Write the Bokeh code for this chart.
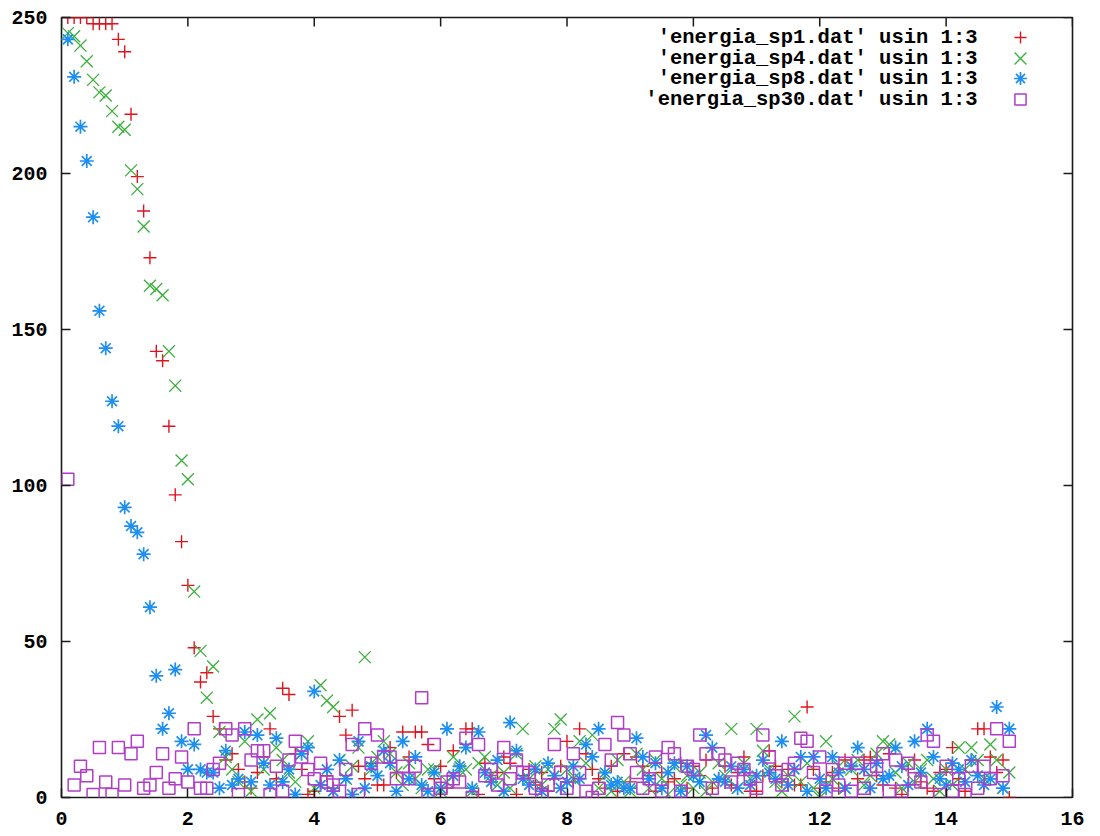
import math
from bokeh.plotting import figure
from bokeh.models import (Range1d, FixedTicker, Legend, LegendItem,
                          Label, ColumnDataSource)
from bokeh.embed import file_html
from bokeh.resources import INLINE

# time steps (same for every file)
times = [
    0.1, 0.2, 0.3, 0.4, 0.5, 0.6, 0.7, 0.8, 0.9, 1.0,
    1.1, 1.2, 1.3, 1.4, 1.5, 1.6, 1.7, 1.8, 1.9, 2.0,
    2.1, 2.2, 2.3, 2.4, 2.5, 2.6, 2.7, 2.8, 2.9, 3.0,
    3.1, 3.2, 3.3, 3.4, 3.5, 3.6, 3.7, 3.8, 3.9, 4.0,
    4.1, 4.2, 4.3, 4.4, 4.5, 4.6, 4.7, 4.8, 4.9, 5.0,
    5.1, 5.2, 5.3, 5.4, 5.5, 5.6, 5.7, 5.8, 5.9, 6.0,
    6.1, 6.2, 6.3, 6.4, 6.5, 6.6, 6.7, 6.8, 6.9, 7.0,
    7.1, 7.2, 7.3, 7.4, 7.5, 7.6, 7.7, 7.8, 7.9, 8.0,
    8.1, 8.2, 8.3, 8.4, 8.5, 8.6, 8.7, 8.8, 8.9, 9.0,
    9.1, 9.2, 9.3, 9.4, 9.5, 9.6, 9.7, 9.8, 9.9, 10.0,
    10.1, 10.2, 10.3, 10.4, 10.5, 10.6, 10.7, 10.8, 10.9, 11.0,
    11.1, 11.2, 11.3, 11.4, 11.5, 11.6, 11.7, 11.8, 11.9, 12.0,
    12.1, 12.2, 12.3, 12.4, 12.5, 12.6, 12.7, 12.8, 12.9, 13.0,
    13.1, 13.2, 13.3, 13.4, 13.5, 13.6, 13.7, 13.8, 13.9, 14.0,
    14.1, 14.2, 14.3, 14.4, 14.5, 14.6, 14.7, 14.8, 14.9, 15.0,
]

sp1 = [
    250, 250, 250, 250, 248, 248, 248, 248, 243, 239,
    219, 199, 188, 173, 143, 140, 119, 97, 82, 68,
    48, 37, 40, 26, 22, 12, 14, 9, 5, 3,
    8, 13, 22, 6, 35, 33, 14, 9, 1, 2,
    4, 7, 3, 26, 20, 28, 10, 6, 11, 4,
    4, 16, 8, 21, 13, 21, 21, 17, 6, 10,
    3, 15, 10, 22, 22, 1, 11, 5, 8, 13,
    11, 1, 7, 9, 4, 8, 2, 6, 10, 18,
    5, 22, 14, 9, 6, 3, 10, 2, 14, 5,
    13, 10, 7, 2, 8, 5, 6, 11, 3, 10,
    7, 12, 3, 6, 10, 4, 8, 13, 2, 2,
    7, 15, 10, 5, 9, 4, 4, 29, 9, 3,
    5, 8, 3, 12, 10, 6, 12, 13, 7, 4,
    14, 3, 1, 9, 12, 5, 3, 2, 8, 9,
    16, 6, 2, 12, 22, 22, 13, 8, 12, 0,
]

sp4 = [
    245, 244, 241, 236, 230, 226, 225, 220, 215, 214,
    201, 195, 183, 164, 163, 161, 143, 132, 108, 102,
    66, 47, 32, 42, 21, 13, 9, 5, 18, 2,
    25, 9, 27, 16, 12, 8, 5, 14, 18, 3,
    36, 31, 29, 12, 6, 10, 16, 45, 9, 13,
    18, 14, 8, 4, 11, 6, 3, 9, 9, 2,
    5, 13, 9, 9, 2, 11, 13, 7, 4, 8,
    3, 14, 22, 6, 10, 4, 9, 22, 25, 9,
    6, 18, 11, 20, 3, 7, 2, 12, 5, 2,
    14, 9, 3, 12, 6, 1, 10, 4, 7, 3,
    8, 2, 5, 11, 7, 22, 3, 11, 6, 22,
    15, 9, 5, 2, 7, 26, 5, 11, 3, 0,
    18, 6, 10, 3, 9, 12, 4, 7, 14, 18,
    17, 8, 3, 11, 5, 9, 12, 6, 2, 9,
    4, 16, 9, 16, 12, 6, 17, 12, 3, 8,
]

sp8 = [
    243, 231, 215, 204, 186, 156, 144, 127, 119, 93,
    87, 85, 78, 61, 39, 22, 27, 41, 18, 9,
    17, 9, 8, 8, 3, 15, 4, 6, 21, 5,
    20, 11, 4, 19, 5, 9, 1, 14, 16, 34,
    4, 9, 2, 12, 6, 1, 18, 3, 10, 7,
    15, 11, 2, 18, 6, 13, 4, 2, 8, 3,
    22, 7, 10, 16, 3, 21, 8, 5, 12, 2,
    24, 15, 6, 4, 9, 2, 11, 7, 3, 5,
    10, 6, 17, 13, 22, 8, 4, 5, 3, 3,
    19, 13, 6, 11, 3, 8, 11, 2, 10, 7,
    5, 20, 16, 6, 5, 10, 3, 9, 4, 7,
    12, 8, 6, 18, 4, 9, 13, 2, 13, 6,
    3, 13, 8, 3, 10, 16, 9, 3, 11, 6,
    7, 16, 10, 4, 18, 8, 22, 13, 6, 4,
    11, 9, 5, 12, 7, 4, 6, 29, 3, 22,
]

sp30 = [
    102, 4, 10, 7, 1, 16, 5, 1, 16, 4,
    14, 18, 3, 4, 8, 14, 3, 6, 13, 5,
    22, 3, 3, 9, 11, 22, 20, 1, 22, 12,
    15, 15, 1, 10, 2, 12, 18, 13, 9, 6,
    11, 5, 4, 2, 9, 17, 1, 22, 11, 20,
    13, 13, 6, 10, 6, 10, 32, 1, 17, 3,
    5, 6, 5, 19, 0, 17, 7, 9, 4, 16,
    6, 12, 8, 8, 3, 1, 4, 17, 8, 3,
    14, 8, 2, 0, 3, 17, 12, 24, 20, 14,
    8, 3, 6, 13, 2, 16, 14, 2, 10, 9,
    20, 14, 3, 14, 12, 5, 11, 9, 6, 3,
    20, 13, 7, 4, 9, 11, 19, 18, 8, 13,
    2, 9, 4, 11, 2, 11, 3, 9, 10, 14,
    2, 12, 2, 11, 6, 5, 20, 18, 1, 10,
    2, 6, 1, 10, 3, 10, 6, 22, 7, 18,
]

series_names = [
    "'energia_sp1.dat' usin 1:3",
    "'energia_sp4.dat' usin 1:3",
    "'energia_sp8.dat' usin 1:3",
    "'energia_sp30.dat' usin 1:3",
]

x_ticks = [0, 2, 4, 6, 8, 10, 12, 14, 16]
y_ticks = [0, 50, 100, 150, 200, 250]
x_min, x_max = 0, 16
y_min, y_max = 0, 250

FONT = "Liberation Mono"
INK = "#1a1a1a"
RED = "#e0141e"
GREEN = "#3cb03c"
BLUE = "#1e8ff0"
PURPLE = "#b03cc8"

p = figure(width=1100, height=836,
           x_range=Range1d(x_min, x_max), y_range=Range1d(y_min, y_max),
           output_backend="svg", toolbar_location=None,
           min_border_left=61, min_border_right=28,
           min_border_top=17, min_border_bottom=39)
p.grid.visible = False
p.outline_line_color = INK
p.outline_line_width = 1.6
p.background_fill_color = "white"
p.border_fill_color = "white"

for ax, ticks in ((p.xaxis[0], x_ticks), (p.yaxis[0], y_ticks)):
    ax.ticker = FixedTicker(ticks=ticks)
    ax.axis_line_color = None
    ax.major_tick_in = 9
    ax.major_tick_out = 0
    ax.major_tick_line_color = INK
    ax.major_tick_line_width = 1.5
    ax.minor_tick_line_color = None
    ax.major_label_text_font = FONT
    ax.major_label_text_font_style = "bold"
    ax.major_label_text_font_size = "20px"
    ax.major_label_text_color = "black"
p.yaxis[0].major_label_standoff = 14
p.xaxis[0].major_label_standoff = 14

# mirrored ticks on the top and right border (gnuplot style)
top_src = ColumnDataSource(dict(x=x_ticks, y=[y_max] * len(x_ticks)))
right_src = ColumnDataSource(dict(x=[x_max] * len(y_ticks), y=y_ticks))
p.ray("x", "y", source=top_src, length=9, length_units="screen",
      angle=-math.pi / 2, line_color=INK, line_width=1.5)
p.ray("x", "y", source=right_src, length=9, length_units="screen",
      angle=math.pi, line_color=INK, line_width=1.5)

src = ColumnDataSource(dict(t=times, sp1=sp1, sp4=sp4, sp8=sp8, sp30=sp30))

r1 = p.scatter("t", "sp1", source=src, marker="cross", size=13,
               line_color=RED, line_width=1.4)
r2 = p.scatter("t", "sp4", source=src, marker="x", size=17,
               line_color=GREEN, line_width=1.3)
r3 = p.scatter("t", "sp8", source=src, marker="asterisk", size=14,
               line_color=BLUE, line_width=1.7)
r4 = p.scatter("t", "sp30", source=src, marker="square", size=12,
               line_color=PURPLE, fill_color=None, line_width=1.5)

# key: text on the left, sample glyph on the right
row_y = [760, 739, 719, 698]
glyph_box = [30, 42, 32, 28]
for name, r, yy, gb in zip(series_names, (r1, r2, r3, r4), row_y, glyph_box):
    p.add_layout(Legend(items=[LegendItem(label=" ", renderers=[r])],
                        location=(959 - gb // 2, yy - gb // 2), orientation="vertical",
                        glyph_width=gb, glyph_height=gb, spacing=0,
                        padding=0, margin=0, label_width=0, label_standoff=0,
                        label_text_font_size="2px",
                        background_fill_alpha=0, border_line_color=None))
    p.add_layout(Label(x=916, y=yy, x_units="screen", y_units="screen", text=name,
                       text_align="right", text_baseline="middle",
                       text_font=FONT, text_font_style="bold",
                       text_font_size="20.5px", text_color="black"))

open("out.html", "w").write(file_html(p, INLINE))
